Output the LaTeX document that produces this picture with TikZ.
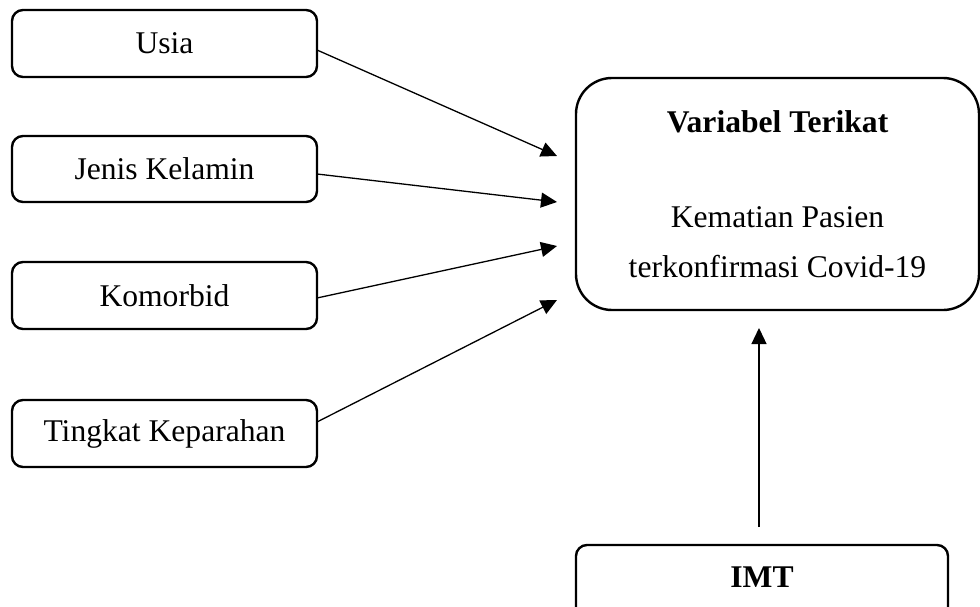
\documentclass[tikz,border=0pt]{standalone}
\usepackage{fontspec}
\setmainfont{Liberation Serif}
\usetikzlibrary{arrows.meta,calc}
\begin{document}
\begin{tikzpicture}[x=1pt,y=-1pt,
  every node/.style={font=\fontsize{31.6}{50}\selectfont},
  smallbox/.style={draw=black, line width=2.4pt, rounded corners=11pt, inner sep=0pt, outer sep=0pt, minimum width=305pt},
  bigbox/.style={draw=black, line width=2.4pt, rounded corners=36pt, inner sep=0pt, outer sep=0pt, minimum width=403pt, minimum height=232pt, align=center},
  arr/.style={line width=1.3pt, -{Triangle[length=16pt,width=15pt]}}]
\useasboundingbox (0,0) rectangle (980,607);
\clip (0,0) rectangle (980,607);
\node[smallbox, minimum height=67pt] (u) at (164.5,43.5) {Usia};
\node[smallbox, minimum height=66pt] (j) at (164.5,169) {Jenis Kelamin};
\node[smallbox, minimum height=67pt] (k) at (164.5,295.5) {Komorbid};
\node[smallbox, minimum height=67pt] (t) at (164.5,433.5) {Tingkat Keparahan};
\node[bigbox] (big) at (777.5,194) {\textbf{Variabel Terikat}\\[45pt]Kematian Pasien\\terkonfirmasi Covid-19};
\node[smallbox, minimum width=372pt, minimum height=74pt] (imt) at (762,582) {};
\node[font=\fontsize{31.6}{50}\selectfont\bfseries] (imtl) at (762,577) {IMT};
\draw[arr] ([yshift=-6.5pt]u.east) -- ($(big.west)+(-19,-38)$);
\draw[arr] ([yshift=-5pt]j.east) -- ($(big.west)+(-19,8)$);
\draw[arr] ([yshift=-2.5pt]k.east) -- ($(big.west)+(-19,52)$);
\draw[arr] ([yshift=11.5pt]t.east) -- ($(big.west)+(-19,106)$);
\draw[arr] ($(imt.north)+(-3,-18)$) -- ($(big.south)+(-18.5,18)$);
\end{tikzpicture}
\end{document}
